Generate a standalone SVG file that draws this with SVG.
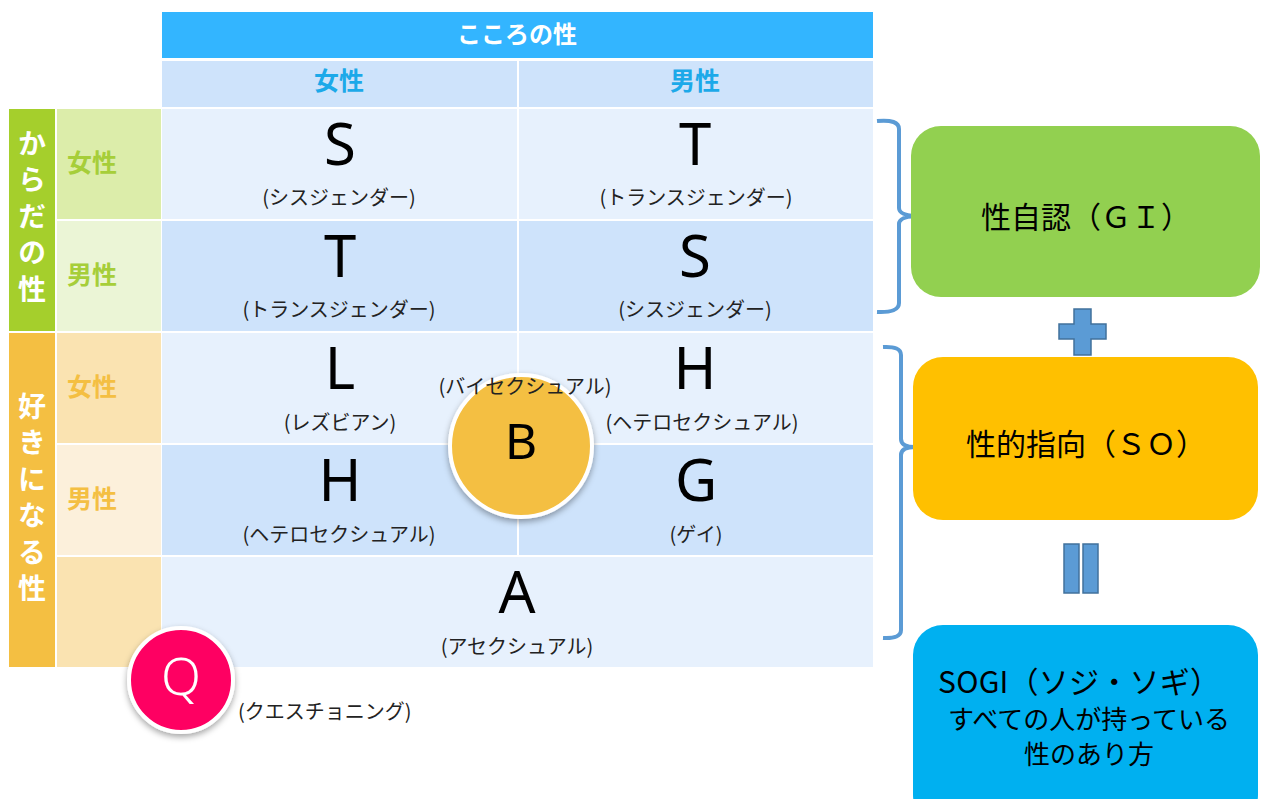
<svg xmlns="http://www.w3.org/2000/svg" width="1261" height="799" viewBox="0 0 1261 799">
<defs>
<style>
.jp{font-family:"Noto Sans CJK JP","Noto Sans",sans-serif;}
.lat{font-family:"Noto Sans","DejaVu Sans",sans-serif;}
.big{font-family:"Noto Sans","DejaVu Sans",sans-serif;font-size:58px;fill:#000;text-anchor:middle;}
.sub{font-family:"Noto Sans CJK JP",sans-serif;font-size:20px;fill:#222;text-anchor:middle;}
.hd{font-family:"Noto Sans CJK JP",sans-serif;font-size:25px;font-weight:bold;fill:#1CA9E9;text-anchor:middle;}
.lg{font-family:"Noto Sans CJK JP",sans-serif;font-size:25px;font-weight:bold;fill:#A6CE39;text-anchor:middle;}
.lo{font-family:"Noto Sans CJK JP",sans-serif;font-size:25px;font-weight:bold;fill:#F4BF42;text-anchor:middle;}
.vt{font-family:"Noto Sans CJK JP",sans-serif;font-size:28px;font-weight:bold;fill:#fff;writing-mode:vertical-rl;letter-spacing:8.5px;}
.box{font-family:"Noto Sans CJK JP",sans-serif;fill:#000;text-anchor:middle;}
.brace{fill:none;stroke:#5B9BD5;stroke-width:4;stroke-linecap:butt;stroke-linejoin:round;}
.sym{fill:#5B9BD5;stroke:#41719C;stroke-width:1.5;}
.lt{fill:#E7F1FD;}
.dk{fill:#CEE3FB;}
</style>
<filter id="sh" x="-30%" y="-30%" width="160%" height="160%">
<feDropShadow dx="0" dy="3" stdDeviation="3" flood-color="#000" flood-opacity="0.35"/>
</filter>
</defs>
<rect width="1261" height="799" fill="#fff"/>

<g id="header">
<rect x="162" y="12" width="711" height="46" fill="#33B5FF"/>
<text x="517" y="43" class="jp" font-size="24" font-weight="bold" fill="#fff" text-anchor="middle">こころの性</text>
<rect x="162" y="61" width="355" height="46" class="dk"/>
<rect x="519" y="61" width="354" height="46" class="dk"/>
<text x="339" y="90" class="hd">女性</text>
<text x="695" y="90" class="hd">男性</text>
</g>

<g id="body-sex">
<rect x="9" y="109" width="46" height="222" fill="#A5CF2C"/>
<text x="32" y="129" class="vt">からだの性</text>
<rect x="57" y="109" width="104" height="110" fill="#DCEDAA"/>
<text x="92" y="172" class="lg">女性</text>
<rect x="57" y="221" width="104" height="110" fill="#EBF5D6"/>
<text x="92" y="284" class="lg">男性</text>
</g>

<g id="attraction">
<rect x="9" y="333" width="46" height="334" fill="#F4BF42"/>
<text x="32" y="392" class="vt">好きになる性</text>
<rect x="57" y="333" width="104" height="110" fill="#FAE3B1"/>
<text x="92" y="396" class="lo">女性</text>
<rect x="57" y="445" width="104" height="110" fill="#FCF0DB"/>
<text x="92" y="508" class="lo">男性</text>
<rect x="57" y="557" width="104" height="110" fill="#FAE3B1"/>
</g>

<g id="cell-ff">
<rect x="162" y="109" width="355" height="110" class="lt"/>
<text x="340" y="165" class="big">S</text>
<text x="339" y="205" class="sub">(シスジェンダー)</text>
</g>
<g id="cell-fm">
<rect x="519" y="109" width="354" height="110" class="lt"/>
<text x="695" y="165" class="big">T</text>
<text x="696" y="205" class="sub">(トランスジェンダー)</text>
</g>
<g id="cell-mf">
<rect x="162" y="221" width="355" height="110" class="dk"/>
<text x="340" y="277" class="big">T</text>
<text x="339" y="317" class="sub">(トランスジェンダー)</text>
</g>
<g id="cell-mm">
<rect x="519" y="221" width="354" height="110" class="dk"/>
<text x="695" y="277" class="big">S</text>
<text x="695" y="317" class="sub">(シスジェンダー)</text>
</g>
<g id="cell-L">
<rect x="162" y="333" width="355" height="110" class="lt"/>
<text x="340" y="389" class="big">L</text>
<text x="340" y="430" class="sub">(レズビアン)</text>
</g>
<g id="cell-H1">
<rect x="519" y="333" width="354" height="110" class="lt"/>
<text x="695" y="389" class="big">H</text>
<text x="702" y="430" class="sub">(ヘテロセクシュアル)</text>
</g>
<g id="cell-H2">
<rect x="162" y="445" width="355" height="110" class="dk"/>
<text x="340" y="501" class="big">H</text>
<text x="339" y="542" class="sub">(ヘテロセクシュアル)</text>
</g>
<g id="cell-G">
<rect x="519" y="445" width="354" height="110" class="dk"/>
<text x="696" y="501" class="big">G</text>
<text x="696" y="542" class="sub">(ゲイ)</text>
</g>
<g id="cell-A">
<rect x="162" y="557" width="711" height="110" class="lt"/>
<text x="517" y="613" class="big">A</text>
<text x="517" y="654" class="sub">(アセクシュアル)</text>
</g>

<g id="node-B">
<circle cx="521" cy="446" r="71" fill="#F4BF42" stroke="#fff" stroke-width="4" filter="url(#sh)"/>
<text x="521" y="459" class="lat" font-size="50" fill="#000" text-anchor="middle">B</text>
<text x="525" y="394" class="sub">(バイセクシュアル)</text>
</g>

<g id="node-Q">
<circle cx="181" cy="680" r="52" fill="#FE0062" stroke="#fff" stroke-width="4" filter="url(#sh)"/>
<text x="181" y="695" class="lat" font-size="52" font-weight="300" fill="#fff" text-anchor="middle">Q</text>
<text x="238" y="719" class="jp" font-size="20" fill="#222">(クエスチョニング)</text>
</g>

<g id="connectors">
<path class="brace" d="M877,121 Q899,119 899,129 L899,208 Q899,216 920,216 Q899,216 899,224 L899,303 Q899,313 877,312"/>
<path class="brace" d="M883,347 Q901,346 901,355 L901,439 Q901,447 915,447 Q901,447 901,455 L901,630 Q901,639 883,638"/>
</g>

<g id="node-GI">
<rect x="911" y="126" width="349" height="171" rx="30" fill="#92D050"/>
<text x="1086" y="228" class="box" font-size="30">性自認（ＧＩ）</text>
</g>

<g id="plus">
<polygon class="sym" points="1074,309 1091,309 1091,324 1106,324 1106,339 1091,339 1091,355 1074,355 1074,339 1059,339 1059,324 1074,324"/>
</g>

<g id="node-SO">
<rect x="913" y="357" width="345" height="163" rx="30" fill="#FFC000"/>
<text x="1086" y="455" class="box" font-size="30">性的指向（ＳＯ）</text>
</g>

<g id="equals">
<rect class="sym" x="1064" y="544" width="15" height="49"/>
<rect class="sym" x="1083" y="544" width="15" height="49"/>
</g>

<g id="node-SOGI">
<rect x="913" y="625" width="345" height="200" rx="30" fill="#00B0F0"/>
<text x="938" y="693" class="jp" font-size="30" fill="#000" textLength="282" lengthAdjust="spacing">SOGI（ソジ・ソギ）</text>
<text x="1089" y="729" class="box" font-size="26">すべての人が持っている</text>
<text x="1089" y="764" class="box" font-size="26">性のあり方</text>
</g>
</svg>
